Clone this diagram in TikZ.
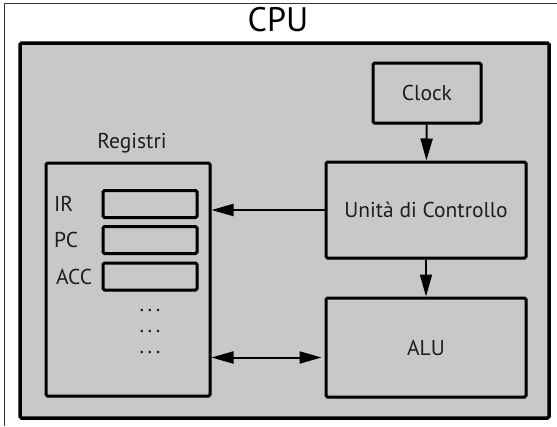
\documentclass[tikz,border=0pt]{standalone}
\usepackage{fontspec}
\setmainfont{PT Sans}
\usepackage{tikz}
\usetikzlibrary{arrows.meta}
\usetikzlibrary{shadows}
\definecolor{boxGray}{RGB}{200,200,200}
\definecolor{textGray}{RGB}{30,30,30}

\begin{document}
\begin{tikzpicture}[x=1pt, y=-1pt]
   \tikzstyle{myBox}=[draw, line width=3pt, fill=boxGray, rounded corners=1.5pt,
      drop shadow={shadow xshift=1.5pt, shadow yshift=-1.5pt, opacity=0.3},
      text=textGray, font=\fontsize{21.5}{24}\selectfont]
   \tikzstyle{mySlot}=[myBox, minimum width=94pt, minimum height=27pt]
   \tikzstyle{myText}=[text=textGray, font=\fontsize{21.5}{24}\selectfont]
   \tikzstyle{myArrow}=[line width=2pt, -{Triangle[length=22pt, width=12pt]}]

   \useasboundingbox (0,0) rectangle (557,426);

   % cornice esterna
   \draw[line width=0.8pt, black!80] (4,426) -- (4,3) -- (557,3);
   \node[font=\fontsize{34}{38}\selectfont] (cpuLabel) at (278,20) {CPU};

   \node[myBox, line width=3.5pt, minimum width=529pt, minimum height=375pt] (cpu) at (284.5,230.5) {};

   \node[myBox, minimum width=108pt, minimum height=60pt] (clock) at (427,93) {Clock};
   \node[myBox, minimum width=200pt, minimum height=96pt] (udc) at (426,210) {Unità di Controllo};
   \node[myBox, minimum width=200pt, minimum height=99pt] (alu) at (426,347.5) {ALU};

   % registri
   \node[myText] (regLabel) at (132,143) {Registri};
   \node[myBox, minimum width=164pt, minimum height=233pt] (reg) at (128,279.5) {};
   \node[mySlot] (ir) at (150,204) {};
   \node[mySlot] (pc) at (150,240) {};
   \node[mySlot] (acc) at (150,276.5) {};
   \node[myText, anchor=west, inner sep=0pt] (irLabel) at (54,204) {IR};
   \node[myText, anchor=west, inner sep=0pt] (pcLabel) at (54,240) {PC};
   \node[myText, anchor=west, inner sep=0pt] (accLabel) at (56,276.5) {ACC};
   \foreach \y/\n in {311/1, 332/2, 353/3}
      \node[myText] (dots\n) at (150,\y) {.\,.\,.};

   % collegamenti
   \draw[myArrow] (clock) -- (udc);
   \draw[myArrow] (udc) -- (alu);
   \draw[myArrow] (udc.west) -- (udc.west -| reg.east);
   \draw[line width=2pt, {Triangle[length=22pt, width=12pt]}-{Triangle[length=22pt, width=12pt]}, shorten >=3pt]
      ([yshift=-10pt]reg.east |- alu.west) -- ([yshift=-10pt]alu.west);
\end{tikzpicture}
\end{document}
